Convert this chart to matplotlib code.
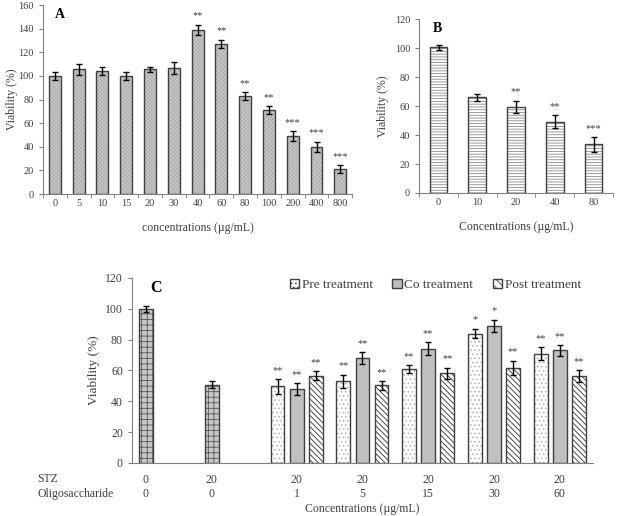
import numpy as np
import matplotlib.pyplot as plt
from matplotlib.transforms import blended_transform_factory
from matplotlib.patches import Patch

plt.rcParams['font.family'] = ['Liberation Serif', 'DejaVu Serif']
plt.rcParams['hatch.linewidth'] = 0.6

# panel A
conc_a = ['0', '5', '10', '15', '20', '30', '40', '60', '80', '100', '200', '400', '800']
via_a = [100, 105.5, 104.5, 100, 105.5, 106.5, 139, 127, 83, 71, 49, 40, 21]
err_a = [3, 4.5, 3.5, 3, 2, 5, 4.5, 3.7, 3.4, 3.5, 4, 4.4, 3.3]
star_a = ['', '', '', '', '', '', '**', '**', '**', '**', '***', '***', '***']

# panel B
conc_b = ['0', '10', '20', '40', '80']
via_b = [100.4, 66, 59.3, 49.2, 33.5]
err_b = [2, 2.3, 4.4, 4.6, 5]
star_b = ['', '', '**', '**', '***']

# panel C
ctrl_vals = [100, 50.8]
ctrl_err = [2, 2]
stz_row = ['0', '20', '20', '20', '20', '20', '20']
oligo_row = ['0', '0', '1', '5', '15', '30', '60']
pre = [49.7, 52.8, 61, 83.9, 70.9]
pre_err = [4.8, 4.5, 2.6, 3.2, 4.1]
co = [48, 67.9, 74, 89, 73]
co_err = [3.7, 3.9, 4.3, 3.9, 3.4]
post = [56.6, 50.2, 58, 61.8, 56.2]
post_err = [2.7, 2.8, 3.8, 4.5, 3.9]
pre_star = ['**', '**', '**', '*', '**']
co_star = ['**', '**', '**', '*', '**']
post_star = ['**', '**', '**', '**', '**']

TXT = '#404040'
EDGE = '#404040'


def style_axes(ax, ymax, step, fs):
    for s in ['top', 'right']:
        ax.spines[s].set_visible(False)
    for s in ['left', 'bottom']:
        ax.spines[s].set_color('#808080')
    ax.set_ylim(0, ymax)
    ax.set_yticks(np.arange(0, ymax + 1, step))
    ax.tick_params(axis='y', colors=TXT, labelsize=fs, length=3, color='#808080')
    ax.tick_params(axis='x', colors=TXT, labelsize=fs, length=0)


def hatched_bars(ax, x, h, w, face, hcolor, hatch, err):
    ax.bar(x, h, w, color=face, edgecolor=hcolor, hatch=hatch, linewidth=0)
    ax.bar(x, h, w, fill=False, edgecolor=EDGE, linewidth=1)
    ax.errorbar(x, h, yerr=err, fmt='none', ecolor='black', elinewidth=1, capsize=2.5, capthick=1)


def stars(ax, x, h, err, labels, fs):
    for xi, hi, ei, s in zip(x, h, err, labels):
        if s:
            ax.annotate(s, (xi, hi + ei), xytext=(0, 3), textcoords='offset points',
                        ha='center', va='bottom', fontsize=fs, color=TXT)


fig = plt.figure(figsize=(6.21, 5.16), dpi=100)

# ---- A
ax1 = fig.add_axes([0.0692, 0.624, 0.498, 0.366])
xa = np.arange(len(conc_a))
hatched_bars(ax1, xa, via_a, 0.5, '#c8c8c8', '#b0b0b0', 'xxxxxxxx', err_a)
stars(ax1, xa, via_a, err_a, star_a, 7.5)
style_axes(ax1, 160, 20, 7.5)
ax1.set_xlim(-0.5, len(conc_a) - 0.5)
ax1.set_xticks(xa, conc_a)
ax1.set_xticks(np.arange(-0.5, len(conc_a)), minor=True)
ax1.tick_params(axis='x', which='minor', length=3, color='#808080')
ax1.set_ylabel('Viability (%)', fontsize=8.5, color=TXT)
ax1.yaxis.set_label_coords(-0.082, 0.5)
ax1.set_xlabel('concentrations (µg/mL)', fontsize=8.5, color=TXT, labelpad=10)
ax1.text(0.04, 0.985, 'A', transform=ax1.transAxes, fontsize=10, fontweight='bold', va='top')

# ---- B
ax2 = fig.add_axes([0.675, 0.626, 0.312, 0.337])
xb = np.arange(len(conc_b))
hatched_bars(ax2, xb, via_b, 0.46, 'white', '#8a8a8a', '------', err_b)
stars(ax2, xb, via_b, err_b, star_b, 7.5)
style_axes(ax2, 120, 20, 7.5)
ax2.set_xlim(-0.5, len(conc_b) - 0.5)
ax2.set_xticks(xb, conc_b)
ax2.set_xticks(np.arange(-0.5, len(conc_b)), minor=True)
ax2.tick_params(axis='x', which='minor', length=3, color='#808080')
ax2.set_ylabel('Viability (%)', fontsize=8.5, color=TXT)
ax2.set_xlabel('Concentrations (µg/mL)', fontsize=8.5, color=TXT, labelpad=10)
ax2.text(0.07, 0.985, 'B', transform=ax2.transAxes, fontsize=10, fontweight='bold', va='top')

# ---- C
ax3 = fig.add_axes([0.2126, 0.103, 0.742, 0.3585])
off = 0.29
bw = 0.21
xc = np.arange(len(ctrl_vals)) - off
hatched_bars(ax3, xc, ctrl_vals, bw, '#c8c8c8', '#555555', '+++', ctrl_err)
xg = np.arange(2, 2 + len(pre))
hatched_bars(ax3, xg - off, pre, bw, 'white', '#b0b0b0', '....', pre_err)
hatched_bars(ax3, xg, co, bw, '#c0c0c0', '#c0c0c0', '', co_err)
hatched_bars(ax3, xg + off, post, bw, 'white', '#303030', '\\\\\\\\\\\\', post_err)
stars(ax3, xg - off, pre, pre_err, pre_star, 7.5)
stars(ax3, xg, co, co_err, co_star, 7.5)
stars(ax3, xg + off, post, post_err, post_star, 7.5)
style_axes(ax3, 120, 20, 8.5)
ax3.set_xlim(-0.5, 6.5)
ax3.set_xticks([])
ax3.set_ylabel('Viability (%)', fontsize=9.5, color=TXT)
ax3.text(0.04, 0.99, 'C', transform=ax3.transAxes, fontsize=11.5, fontweight='bold', va='top')

# row labels under panel C
tr = blended_transform_factory(ax3.transData, ax3.transAxes)
row_x = list(xc) + list(xg)
for xi, s, o in zip(row_x, stz_row, oligo_row):
    ax3.text(xi, -0.09, s, transform=tr, ha='center', va='center', fontsize=8.5, color=TXT)
    ax3.text(xi, -0.17, o, transform=tr, ha='center', va='center', fontsize=8.5, color=TXT)
fig.text(37 / 621, 1 - 479 / 516, 'STZ', ha='left', va='center', fontsize=8.5, color=TXT)
fig.text(37 / 621, 1 - 494 / 516, 'Oligosaccharide', ha='left', va='center', fontsize=8.5, color=TXT)
ax3.text(0.5, -0.25, 'Concentrations (µg/mL)', transform=ax3.transAxes, ha='center', va='center',
         fontsize=8.5, color=TXT)

# legend
handles = [Patch(facecolor='white', edgecolor=EDGE, hatch='....'),
           Patch(facecolor='#c0c0c0', edgecolor=EDGE),
           Patch(facecolor='white', edgecolor=EDGE, hatch='\\\\\\\\')]
ax3.legend(handles, ['Pre treatment', 'Co treatment', 'Post treatment'], ncol=3, frameon=False,
           loc='upper right', bbox_to_anchor=(1.0, 1.06), fontsize=9.5, handlelength=0.7,
           handleheight=0.7, handletextpad=0.2, columnspacing=1.5, labelcolor=TXT)

fig.savefig('out.png', dpi=100)
